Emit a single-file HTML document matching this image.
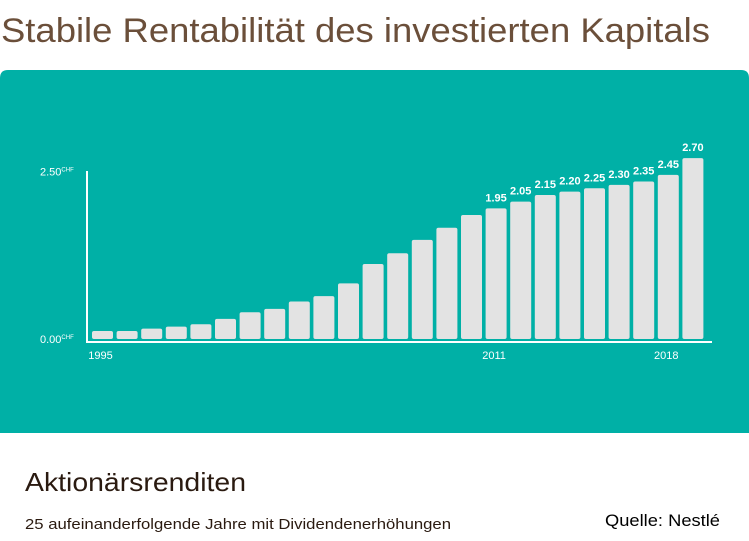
<!DOCTYPE html>
<html><head><meta charset="utf-8"><style>
html,body{margin:0;padding:0;background:#fff;width:749px;height:541px;overflow:hidden}
svg{display:block;font-family:"Liberation Sans",sans-serif}
</style></head><body>
<svg id="c" width="749" height="541" viewBox="0 0 749 541">
<text x="1" y="42" font-size="34" fill="#6b4f3a" textLength="709" lengthAdjust="spacingAndGlyphs">Stabile Rentabilität des investierten Kapitals</text>
<path d="M0,78 Q0,70 8,70 L741,70 Q749,70 749,78 L749,433 L0,433 Z" fill="#00b0a6"/>
<g id="plot"></g>
<text x="25" y="491" font-size="26" fill="#2a1a10" textLength="221" lengthAdjust="spacingAndGlyphs">Aktionärsrenditen</text>
<text x="25" y="529" font-size="14.5" fill="#2a1a10" textLength="426" lengthAdjust="spacingAndGlyphs">25 aufeinanderfolgende Jahre mit Dividendenerhöhungen</text>
<text x="605" y="526" font-size="16.5" fill="#000" textLength="115" lengthAdjust="spacingAndGlyphs">Quelle: Nestlé</text>
</svg>
<script>
const years = [1995,1996,1997,1998,1999,2000,2001,2002,2003,2004,2005,2006,2007,2008,2009,2010,2011,2012,2013,2014,2015,2016,2017,2018,2019];
const values = [0.12,0.12,0.155,0.185,0.22,0.30,0.40,0.45,0.56,0.64,0.83,1.12,1.28,1.48,1.66,1.85,1.95,2.05,2.15,2.20,2.25,2.30,2.35,2.45,2.70];
const valueLabels = [null,null,null,null,null,null,null,null,null,null,null,null,null,null,null,null,"1.95","2.05","2.15","2.20","2.25","2.30","2.35","2.45","2.70"];
const xTickYears = [1995,2011,2018];
const yTicks = [0,2.5];
const yTickLabels = ["0.00","2.50"];

const NS="http://www.w3.org/2000/svg";
const g=document.getElementById('plot');
const x0=92, pitch=24.6, bw=21, base=339, scale=67;
const xPos=i=>x0+i*pitch;
const yPos=v=>base-v*scale;
function mk(t,a){const e=document.createElementNS(NS,t);for(const k in a)e.setAttribute(k,a[k]);g.appendChild(e);return e;}
values.forEach((v,i)=>{
  const r=mk('rect',{x:xPos(i),y:yPos(v),width:bw,height:base-yPos(v),rx:2,fill:'#e3e3e3'});
  
  
  if(valueLabels[i]){
    const t=mk('text',{x:xPos(i)+bw/2,y:yPos(v)-7,'font-size':11,'font-weight':'bold',fill:'#fff','text-anchor':'middle'});
    t.textContent=valueLabels[i];
    
    
  }
});
const ya=mk('line',{x1:87,y1:171,x2:87,y2:342,stroke:'#fff','stroke-width':2});


const xa=mk('line',{x1:86,y1:342,x2:712,y2:342,stroke:'#fff','stroke-width':2});


yTicks.forEach((v,i)=>{
  const t=mk('text',{x:40,y:yPos(v)+4,'font-size':11,fill:'#fff'});
  t.textContent=yTickLabels[i];
  const s=document.createElementNS(NS,'tspan');s.setAttribute('font-size','6');s.setAttribute('dy','-4');s.textContent='CHF';t.appendChild(s);
  
  
});
xTickYears.forEach(y=>{
  const i=years.indexOf(y);
  const t=mk('text',{x:xPos(i)+bw/2-2,y:359,'font-size':11,fill:'#fff','text-anchor':'middle'});
  t.textContent=String(y);
  
  
});
</script>
</body></html>
